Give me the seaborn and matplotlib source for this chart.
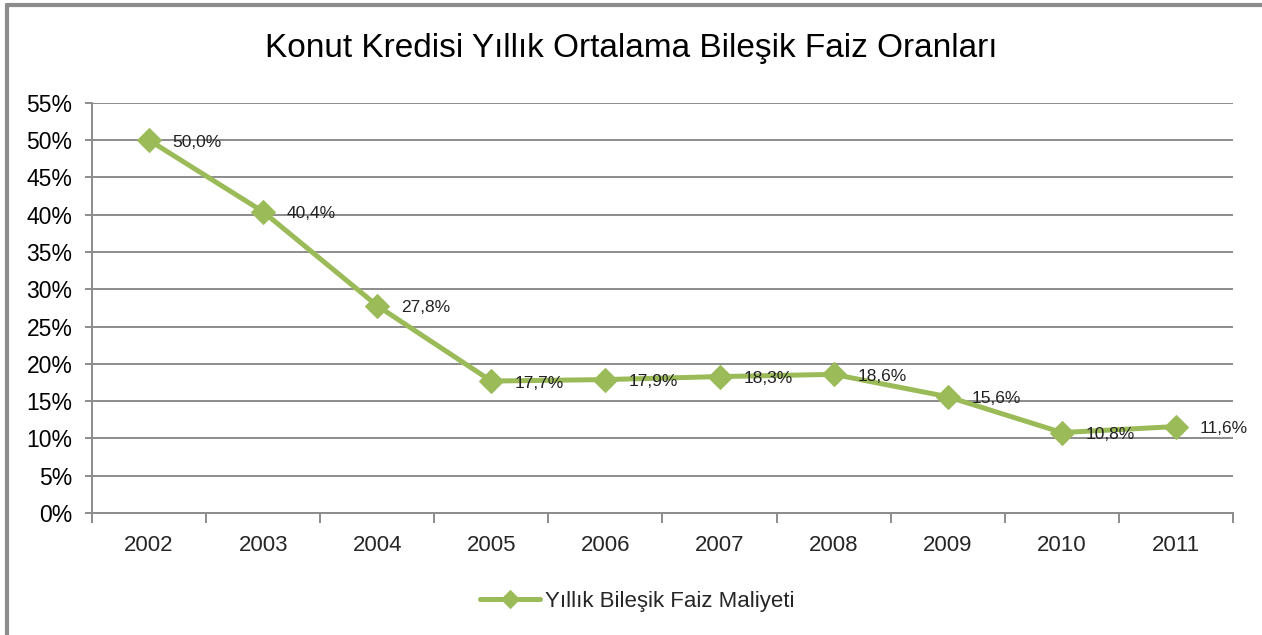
import numpy as np
import matplotlib
matplotlib.use("Agg")
import matplotlib.pyplot as plt
from matplotlib.lines import Line2D
from matplotlib.ticker import FixedLocator, FuncFormatter
from matplotlib import font_manager
import seaborn as sns
import pandas as pd

# veriler
years = ["2002", "2003", "2004", "2005", "2006", "2007", "2008", "2009", "2010", "2011"]
rates = [50.0, 40.4, 27.8, 17.7, 17.9, 18.3, 18.6, 15.6, 10.8, 11.6]
series_name = "Yıllık Bileşik Faiz Maliyeti"
title = "Konut Kredisi Yıllık Ortalama Bileşik Faiz Oranları"
y_ticks = [0, 5, 10, 15, 20, 25, 30, 35, 40, 45, 50, 55]

sns.set_style("white")
plt.rcParams['font.family'] = ['Liberation Sans', 'DejaVu Sans']

green = "#9BBB59"
grid_gray = "#8C8C8C"

# başlık için dar bir yazı tipi varsa onu kullan
installed = {f.name for f in font_manager.fontManager.ttflist}
if "Liberation Sans Narrow" in installed:
    title_family, title_size = ["Liberation Sans Narrow", "DejaVu Sans"], 26
elif "DejaVu Sans Condensed" in installed:
    title_family, title_size = ["DejaVu Sans Condensed", "DejaVu Sans"], 23
else:
    title_family, title_size = ["Liberation Sans", "DejaVu Sans"], 24

df = pd.DataFrame({"pos": np.arange(len(years)), "rate": rates})

fig = plt.figure(figsize=(12.62, 6.35), dpi=100)
ax = fig.add_axes([0.0729, 0.192, 0.977 - 0.0729, 0.838 - 0.192])

sns.lineplot(data=df, x="pos", y="rate", ax=ax, color=green, linewidth=3.6,
             marker="D", markersize=12, markeredgecolor=green, label=series_name)

# veri etiketleri
for x, v in zip(df["pos"], df["rate"]):
    ax.annotate(f"{v:.1f}".replace(".", ",") + "%", (x, v), xytext=(17, -1.5),
                textcoords="offset points", ha="left", va="center",
                fontsize=12.5, color="#222222")

ax.set_ylim(0, 55)
ax.set_xlim(-0.5, len(years) - 0.5)
ax.yaxis.set_major_locator(FixedLocator(y_ticks))
ax.yaxis.set_major_formatter(FuncFormatter(lambda v, p: f"{int(v)}%"))
ax.set_xticks(range(len(years)))
ax.set_xticklabels(years)
ax.set_xticks(np.arange(-0.5, len(years), 1.0), minor=True)

ax.grid(axis="y", color=grid_gray, linewidth=1.4)
ax.set_axisbelow(True)
for s in ["top", "right"]:
    ax.spines[s].set_visible(False)
for s in ["left", "bottom"]:
    ax.spines[s].set_color(grid_gray)
    ax.spines[s].set_linewidth(1.4)

ax.tick_params(axis="y", which="major", left=True, length=5, width=1.4, color=grid_gray,
               labelsize=16.5, pad=9, labelcolor="black")
ax.tick_params(axis="x", which="major", bottom=False, length=0, labelsize=16, pad=16)
ax.tick_params(axis="x", which="minor", bottom=True, length=7, width=1.4, color=grid_gray)
ax.set_xlabel("")
ax.set_ylabel("")

fig.text(0.5, 1 - 48 / 635, title, ha="center", va="center", fontsize=title_size,
         family=title_family, color="black")

leg = ax.legend(loc="center", bbox_to_anchor=(0.505, 1 - 601 / 635), bbox_transform=fig.transFigure,
                frameon=False, fontsize=16, handlelength=2.7, handletextpad=0.2)
for h in leg.legend_handles:
    h.set_markersize(9)

# dış çerçeve
fig.add_artist(Line2D([7 / 1262, 1], [1 - 5 / 635, 1 - 5 / 635], transform=fig.transFigure,
                      color="#8C8C8C", linewidth=3))
fig.add_artist(Line2D([7 / 1262, 7 / 1262], [0, 1 - 5 / 635], transform=fig.transFigure,
                      color="#8C8C8C", linewidth=3))

fig.savefig("out.png", dpi=100, facecolor="white")
